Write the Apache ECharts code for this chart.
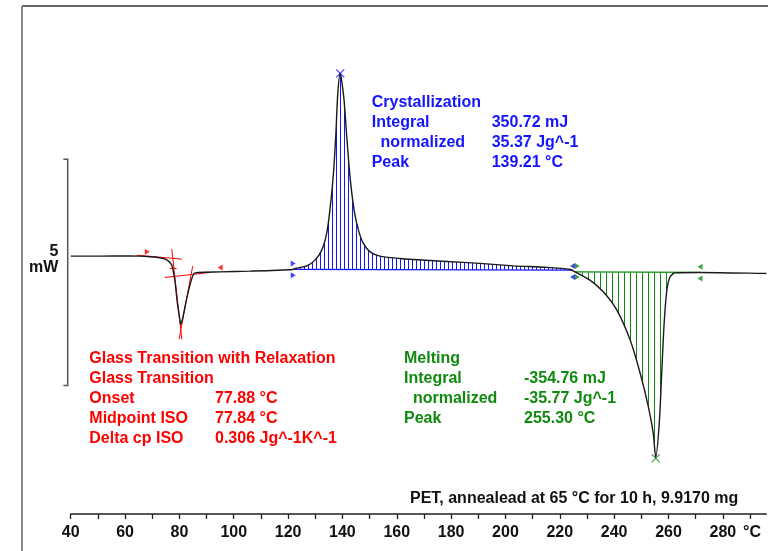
<!DOCTYPE html>
<html>
<head>
<meta charset="utf-8">
<script src="https://cdn.jsdelivr.net/npm/echarts@6/dist/echarts.min.js"></script>
<style>
  html,body{margin:0;padding:0;background:#fff;}
  #chart{width:768px;height:551px;}
</style>
</head>
<body>
<div id="chart"></div>
<script>
// DSC curve, temperature in °C, heat flow in mW (exo up)
var tempC = [40, 50.8, 61.8, 69.2, 74.1, 75.9, 77.2, 77.8, 78.4, 79.2,
  80.2, 80.5, 81.2, 82.7, 84.2, 85.4, 87.0, 95.0, 106.0, 121.8,
  122.6, 126.9, 129.9, 132.4, 134.2, 135.4, 136.7, 137.6, 138.3, 139.2,
  139.7, 140.6, 141.6, 142.8, 144.3, 145.9, 147.7, 150.2, 153.8, 161.2,
  166.1, 178.4, 190.6, 202.9, 215.2, 223.8, 225.6, 231.1, 236.0, 241.0,
  245.9, 249.6, 252.6, 254.4, 255.3, 256.6, 257.5, 258.4, 259.4, 260.6,
  262.5, 271.6, 294.9, 296];
var heatFlow = [0.36, 0.36, 0.365, 0.345, 0.309, 0.256, 0.161, 0.013, -0.208, -0.65,
  -1.054, -1.149, -1.017, -0.575, -0.208, -0.022, 0, 0.013, 0.029, 0.066,
  0.088, 0.146, 0.272, 0.493, 0.862, 1.377, 2.188, 3.073, 3.957, 4.405,
  4.251, 3.809, 2.997, 2.113, 1.377, 0.935, 0.641, 0.455, 0.36, 0.309,
  0.287, 0.243, 0.199, 0.146, 0.111, 0.066, 0.013, -0.17, -0.429, -0.833,
  -1.496, -2.233, -2.971, -3.559, -4.094, -3.338, -2.233, -1.127, -0.391, -0.097,
  -0.009, 0, -0.022, -0.025];

// evaluation ranges and baselines
var crystRange = [122.6, 225.6];
var crystBase = [[121.9, 0.066], [224.7, 0.051]];
var meltRange = [225.6, 271.6];
var meltBase = [[225.6, 0.013], [271.6, 0.0]];

// glass transition construction lines
var tanPre = [[64.3, 0.382], [80.9, 0.294]];
var tanPost = [[74.7, -0.111], [91.3, 0.0]];
var tanLeft = [[77.2, 0.515], [80.9, -1.481]];
var tanRight = [[84.9, 0.139], [79.9, -1.473]];
var midMark = [[76.5, 0.088], [79.0, 0.088]];

// limit flags
var redFlagsR = [[68.2, 0.455]];
var redFlagsL = [[95.0, 0.11]];
var blueFlagsR = [[121.9, 0.199], [121.9, -0.06]];
var blueFlagsL = [[224.7, 0.14], [224.7, -0.10]];
var greenFlagsR = [[226.4, 0.14], [226.4, -0.10]];
var greenFlagsL = [[271.6, 0.124], [271.6, -0.133]];

// peaks
var crystPeak = [[139.2, 4.40]];
var meltPeak = [[255.3, -4.11]];

// scale bar: 5 mW, drawn left of the first tick
var scaleBar = [[37.3, 2.5], [38.9, 2.5], [38.9, -2.5], [37.3, -2.5]];

var xTicks = {min: 40, max: 296, step: 10, labelStep: 20};

var crystLines = [
  ['Crystallization', ''],
  ['Integral', '350.72 mJ'],
  ['  normalized', '35.37 Jg^-1'],
  ['Peak', '139.21 °C']
];
var glassLines = [
  ['Glass Transition with Relaxation', ''],
  ['Glass Transition', ''],
  ['Onset', '77.88 °C'],
  ['Midpoint ISO', '77.84 °C'],
  ['Delta cp ISO', '0.306 Jg^-1K^-1']
];
var meltLines = [
  ['Melting', ''],
  ['Integral', '-354.76 mJ'],
  ['  normalized', '-35.77 Jg^-1'],
  ['Peak', '255.30 °C']
];
var footer = 'PET, annealead at 65 °C for 10 h, 9.9170 mg';

var BLUE = '#1414ff', RED = '#ff0000', GREEN = '#0f8a0f';
var FONT = 'bold 16px "Liberation Sans", Arial, sans-serif';

var curve = tempC.map(function(t, i){ return [t, heatFlow[i]]; });
function part(r){
  return curve.filter(function(p){ return p[0] >= r[0] && p[0] <= r[1]; });
}
function stripes(color, gap){
  var c = document.createElement('canvas');
  c.width = gap; c.height = 4;
  var ctx = c.getContext('2d');
  ctx.fillStyle = color;
  ctx.fillRect(0, 0, 1, 4);
  return c;
}
function seg(data, color, w){
  return {type: 'line', data: data, symbol: 'none', silent: true, z: 4,
    lineStyle: {color: color, width: w || 1}};
}
function flags(data, color, rot){
  return {type: 'scatter', data: data, symbol: 'triangle', symbolSize: [6, 5],
    symbolRotate: rot, itemStyle: {color: color}, z: 6, silent: true};
}
function cross(data, color){
  return {type: 'scatter', data: data, symbol: 'path://M0,0L10,10M10,0L0,10',
    symbolSize: 8, itemStyle: {color: 'rgba(0,0,0,0)', borderColor: color, borderWidth: 1.2},
    z: 7, silent: true};
}
function block(lines, color, x, x2, y0){
  var out = [];
  lines.forEach(function(l, i){
    out.push({type: 'text', x: x, y: y0 + i * 20, style: {text: l[0], font: FONT, fill: color, textVerticalAlign: 'middle'}});
    if (l[1]) out.push({type: 'text', x: x2, y: y0 + i * 20, style: {text: l[1], font: FONT, fill: color, textVerticalAlign: 'middle'}});
  });
  return out;
}

var chart = echarts.init(document.getElementById('chart'));
var smooth = 0.25;

var option = {
  animation: false,
  grid: {left: 70.7, right: 1.7, top: 20, bottom: 37},
  xAxis: {
    type: 'value', min: xTicks.min, max: xTicks.max, interval: xTicks.step,
    splitLine: {show: false},
    axisLine: {show: true, onZero: false, lineStyle: {color: '#222', width: 1.5}},
    axisTick: {show: true, length: 5, lineStyle: {color: '#222', width: 1.3}},
    axisLabel: {
      margin: 11, color: '#111', fontWeight: 'bold', fontSize: 16,
      fontFamily: '"Liberation Sans", Arial, sans-serif',
      showMaxLabel: false,
      formatter: function(v){ return v % xTicks.labelStep === 0 ? String(v) : ''; }
    }
  },
  yAxis: {type: 'value', min: -5.34, max: 5.58, show: false, splitLine: {show: false}},
  series: [
    {type: 'line', data: part(crystRange), symbol: 'none', smooth: smooth, silent: true, z: 2,
      lineStyle: {width: 0, opacity: 0},
      areaStyle: {color: {image: stripes(BLUE, 4), repeat: 'repeat'}, origin: 0.06, opacity: 1}},
    {type: 'line', data: part(meltRange), symbol: 'none', smooth: smooth, silent: true, z: 2,
      lineStyle: {width: 0, opacity: 0},
      areaStyle: {color: {image: stripes(GREEN, 6), repeat: 'repeat'}, origin: 0.0, opacity: 1}},
    seg(crystBase, BLUE, 1.2),
    seg(meltBase, GREEN, 1.2),
    seg(tanPre, RED), seg(tanPost, RED), seg(tanLeft, RED), seg(tanRight, RED), seg(midMark, RED),
    {type: 'line', data: curve, symbol: 'none', smooth: smooth, silent: true, z: 5,
      lineStyle: {color: '#1a1a1a', width: 1.4}},
    flags(redFlagsR, RED, -90), flags(redFlagsL, RED, 90),
    flags(blueFlagsR, BLUE, -90), flags(blueFlagsL, BLUE, 90),
    flags(greenFlagsR, GREEN, -90), flags(greenFlagsL, GREEN, 90),
    cross(crystPeak, BLUE), cross(meltPeak, GREEN)
  ],
  graphic: [].concat(
    [
      {type: 'line', shape: {x1: 22, y1: 6, x2: 768, y2: 6}, style: {stroke: '#333', lineWidth: 1.5}},
      {type: 'line', shape: {x1: 22, y1: 6, x2: 22, y2: 551}, style: {stroke: '#888', lineWidth: 2}},
      {type: 'text', x: 58.3, y: 252, style: {text: '5', font: FONT, fill: '#111', textAlign: 'right', textVerticalAlign: 'middle'}},
      {type: 'text', x: 58.3, y: 268, style: {text: 'mW', font: FONT, fill: '#111', textAlign: 'right', textVerticalAlign: 'middle'}},
      {type: 'text', x: 743, y: 533, style: {text: '°C', font: FONT, fill: '#111', textVerticalAlign: 'middle'}},
      {type: 'text', x: 738.3, y: 498.5, style: {text: footer, font: FONT, fill: '#111', textAlign: 'right', textVerticalAlign: 'middle'}}
    ],
    block(crystLines, BLUE, 371.7, 491.7, 103),
    block(glassLines, RED, 89.3, 215, 359),
    block(meltLines, GREEN, 404, 524, 359)
  )
};
chart.setOption(option);

// scale bar through the chart's own scales
var barPts = scaleBar.map(function(p){ return chart.convertToPixel({gridIndex: 0}, p); });
chart.setOption({graphic: [{id: 'scalebar', type: 'polyline', shape: {points: barPts},
  style: {stroke: '#555', lineWidth: 1.5, fill: null}}]});
</script>
</body>
</html>
